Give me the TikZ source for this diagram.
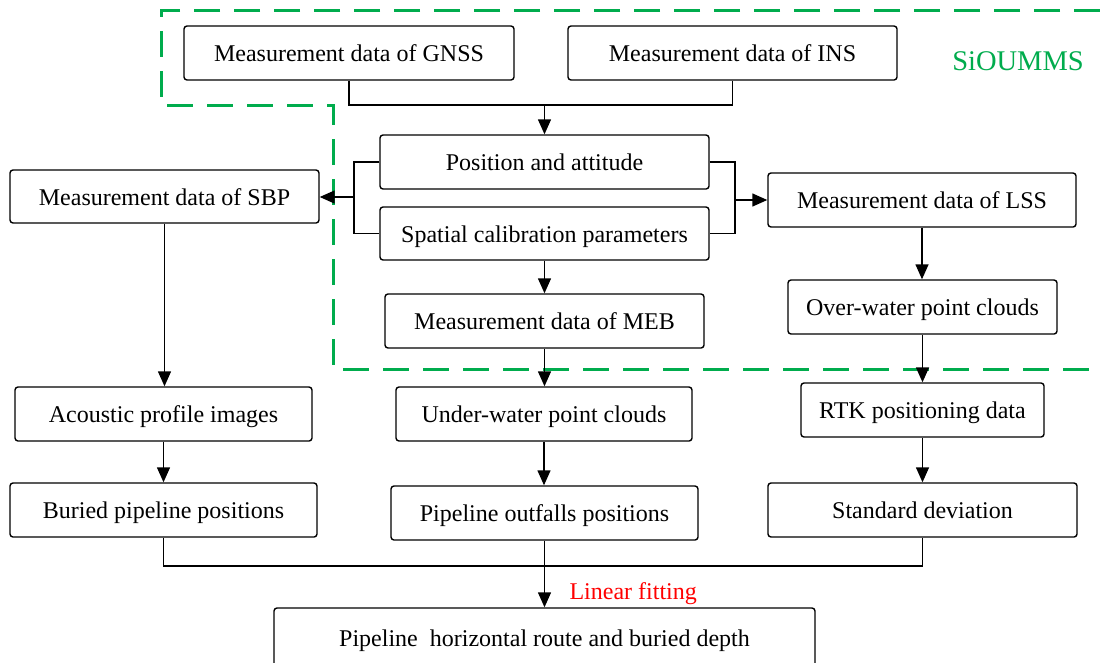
\documentclass[tikz,border=0pt]{standalone}
\usepackage{fontspec}
\setmainfont{Liberation Serif}
\usetikzlibrary{arrows.meta}
\definecolor{dgreen}{RGB}{0,172,77}
\tikzset{
  box/.style={draw, rounded corners=3pt, line width=1.4pt, inner sep=0pt,
    minimum height=54pt, text height=21pt, text depth=4pt,
    font=\fontsize{24}{28}\selectfont},
  arr/.style={line width=1.4pt, -{Triangle[length=15pt,width=13pt]}},
  ln/.style={line width=1.4pt},
  grp/.style={dgreen, line width=3pt, dash pattern=on 26pt off 14pt}
}
\begin{document}
\begin{tikzpicture}[x=1pt,y=-1pt]
\clip (0,0) rectangle (1100,662);
\fill[white] (0,0) rectangle (1100,662);
% group outline
\draw[grp] (1100,10) -- (161,10) -- (161,105) -- (333,105) -- (333,369) -- (1100,369);
\node[text=dgreen, font=\fontsize{28.5}{32}\selectfont] (sio) at (1018,61) {SiOUMMS};
% nodes
\node[box, minimum width=330pt] (gnss) at (349,53) {Measurement data of GNSS};
\node[box, minimum width=329pt] (ins) at (732.5,53) {Measurement data of INS};
\node[box, minimum width=329pt] (pos) at (544.5,162) {Position and attitude};
\node[box, minimum width=329pt, minimum height=53pt] (spc) at (544.5,233.5) {Spatial calibration parameters};
\node[box, minimum width=309pt, minimum height=53pt] (sbp) at (164.5,196.5) {Measurement data of SBP};
\node[box, minimum width=308pt] (lss) at (922,200) {Measurement data of LSS};
\node[box, minimum width=319pt] (meb) at (544.5,321) {Measurement data of MEB};
\node[box, minimum width=269pt] (ovr) at (922.5,307) {Over-water point clouds};
\node[box, minimum width=296pt] (und) at (544,414) {Under-water point clouds};
\node[box, minimum width=243pt] (rtk) at (922.5,410) {RTK positioning data};
\node[box, minimum width=297pt] (aco) at (163.5,414) {Acoustic profile images};
\node[box, minimum width=307pt] (bur) at (163.5,510) {Buried pipeline positions};
\node[box, minimum width=307pt] (out) at (544.5,513) {Pipeline outfalls positions};
\node[box, minimum width=309pt] (std) at (922.5,510) {Standard deviation};
\node[box, minimum width=541pt, minimum height=60pt] (fin) at (544.5,638) {Pipeline\ \ horizontal route and buried depth};
\node[text=red, font=\fontsize{24}{28}\selectfont, anchor=west] (lin) at (566,594) {Linear fitting};
% connectors
\coordinate (tj) at (544.5,105);
\draw[ln] (gnss.south) |- (tj);
\draw[ln] (ins.south) |- (tj);
\draw[arr] (tj) -- (pos.north);
\coordinate (lj) at (354,197);
\draw[ln] (pos.west) -| (lj) |- (spc.west);
\draw[arr] (lj) -- (lj -| sbp.east);
\coordinate (rj) at (735,200);
\draw[ln] (pos.east) -| (rj) |- (spc.east);
\draw[arr] (rj) -- (lss.west);
\draw[arr] (spc.south) -- (meb.north);
\draw[arr] (lss.south) -- (lss.south |- ovr.north);
\draw[arr] (meb.south) -- (meb.south |- und.north);
\draw[arr] (ovr.south) -- (ovr.south |- rtk.north);
\draw[arr] (sbp.south) -- (sbp.south |- aco.north);
\draw[arr] (aco.south) -- (aco.south |- bur.north);
\draw[arr] (und.south) -- (und.south |- out.north);
\draw[arr] (rtk.south) -- (rtk.south |- std.north);
\coordinate (bj) at (544.5,566);
\draw[ln] (bur.south) |- (bj);
\draw[ln] (std.south) |- (bj);
\draw[arr] (out.south) -- (fin.north);
\end{tikzpicture}
\end{document}
